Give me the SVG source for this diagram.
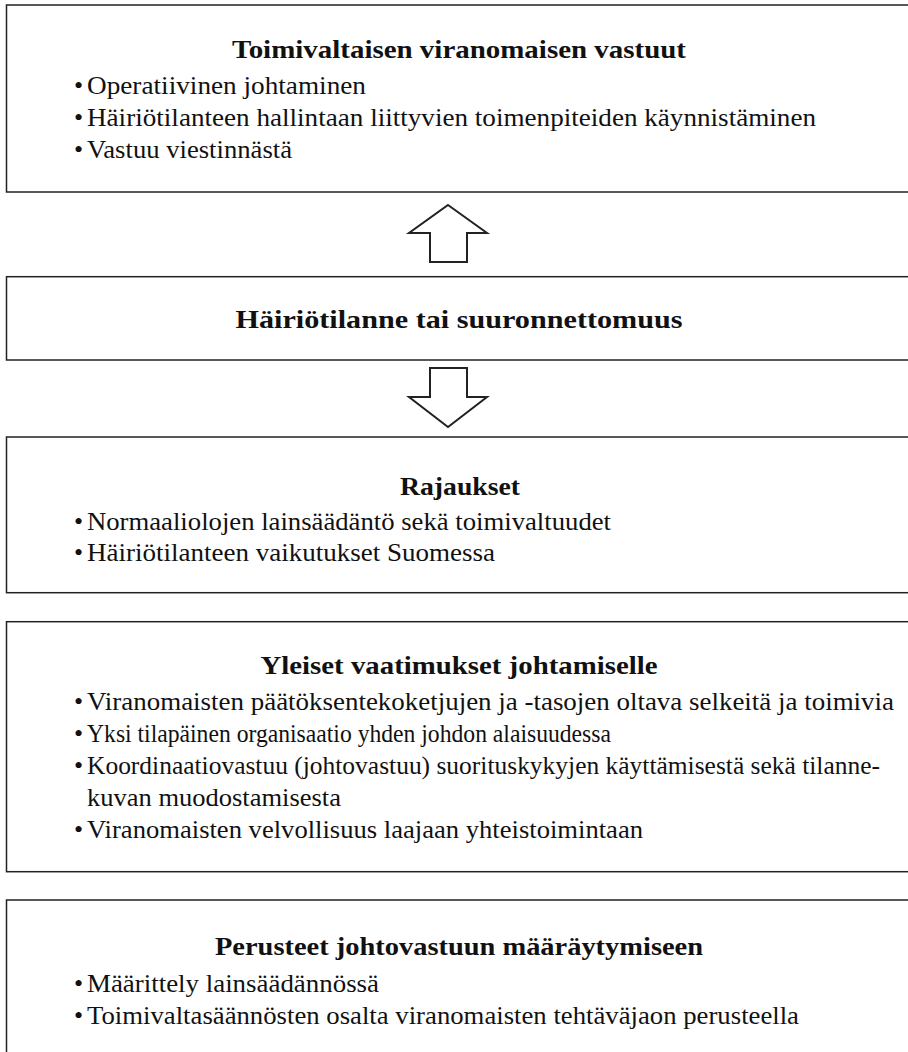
<svg xmlns="http://www.w3.org/2000/svg" width="908" height="1052" viewBox="0 0 908 1052">
<style>
.box{fill:#ffffff;stroke:#222222;stroke-width:1.5}
.arrow{fill:#ffffff;stroke:#222222;stroke-width:2;stroke-linejoin:miter}
.t{font-size:26px;fill:#111111}
.h{font-size:26px;font-weight:bold;fill:#111111;text-anchor:middle}
</style>
<rect width="908" height="1052" fill="#ffffff"/>
<g font-family="Liberation Serif, DejaVu Serif, serif">
<g id="box1">
<rect class="box" x="6.5" y="5" width="912" height="187"/>
<text class="h" x="459" y="58" textLength="454" lengthAdjust="spacingAndGlyphs">Toimivaltaisen viranomaisen vastuut</text>
<text class="t" x="74" y="94">•</text><text class="t" x="87" y="94" textLength="279" lengthAdjust="spacingAndGlyphs">Operatiivinen johtaminen</text>
<text class="t" x="74" y="126">•</text><text class="t" x="87" y="126" textLength="729" lengthAdjust="spacingAndGlyphs">Häiriötilanteen hallintaan liittyvien toimenpiteiden käynnistäminen</text>
<text class="t" x="74" y="158">•</text><text class="t" x="87" y="158" textLength="205" lengthAdjust="spacingAndGlyphs">Vastuu viestinnästä</text>
</g>
<g id="box2">
<rect class="box" x="6.5" y="276.7" width="912" height="83.3"/>
<text class="h" x="459" y="328" textLength="447" lengthAdjust="spacingAndGlyphs">Häiriötilanne tai suuronnettomuus</text>
</g>
<g id="box3">
<rect class="box" x="6.5" y="437" width="912" height="155.7"/>
<text class="h" x="460" y="495" textLength="120" lengthAdjust="spacingAndGlyphs">Rajaukset</text>
<text class="t" x="74" y="530">•</text><text class="t" x="87" y="530" textLength="524" lengthAdjust="spacingAndGlyphs">Normaaliolojen lainsäädäntö sekä toimivaltuudet</text>
<text class="t" x="74" y="561">•</text><text class="t" x="87" y="561" textLength="408" lengthAdjust="spacingAndGlyphs">Häiriötilanteen vaikutukset Suomessa</text>
</g>
<g id="box4">
<rect class="box" x="6.5" y="621.7" width="912" height="250"/>
<text class="h" x="459" y="674" textLength="397" lengthAdjust="spacingAndGlyphs">Yleiset vaatimukset johtamiselle</text>
<text class="t" x="74" y="710">•</text><text class="t" x="87" y="710" textLength="807" lengthAdjust="spacingAndGlyphs">Viranomaisten päätöksentekoketjujen ja -tasojen oltava selkeitä ja toimivia</text>
<text class="t" x="74" y="742">•</text><text class="t" x="87" y="742" textLength="524" lengthAdjust="spacingAndGlyphs">Yksi tilapäinen organisaatio yhden johdon alaisuudessa</text>
<text class="t" x="74" y="774">•</text><text class="t" x="87" y="774" textLength="793" lengthAdjust="spacingAndGlyphs">Koordinaatiovastuu (johtovastuu) suorituskykyjen käyttämisestä sekä tilanne-</text>
<text class="t" x="87" y="806" textLength="254" lengthAdjust="spacingAndGlyphs">kuvan muodostamisesta</text>
<text class="t" x="74" y="838">•</text><text class="t" x="87" y="838" textLength="556" lengthAdjust="spacingAndGlyphs">Viranomaisten velvollisuus laajaan yhteistoimintaan</text>
</g>
<g id="box5">
<rect class="box" x="6.5" y="900" width="912" height="200"/>
<text class="h" x="459" y="955" textLength="488" lengthAdjust="spacingAndGlyphs">Perusteet johtovastuun määräytymiseen</text>
<text class="t" x="74" y="992">•</text><text class="t" x="87" y="992" textLength="292" lengthAdjust="spacingAndGlyphs">Määrittely lainsäädännössä</text>
<text class="t" x="74" y="1024">•</text><text class="t" x="87" y="1024" textLength="712" lengthAdjust="spacingAndGlyphs">Toimivaltasäännösten osalta viranomaisten tehtäväjaon perusteella</text>
</g>
</g>
<g id="connectors">
<polygon class="arrow" points="448,205 487,233 467,233 467,262 430,262 430,233 409,233"/>
<polygon class="arrow" points="430,368 467,368 467,397 487,397 448,427 409,397 430,397"/>
</g>
</svg>
